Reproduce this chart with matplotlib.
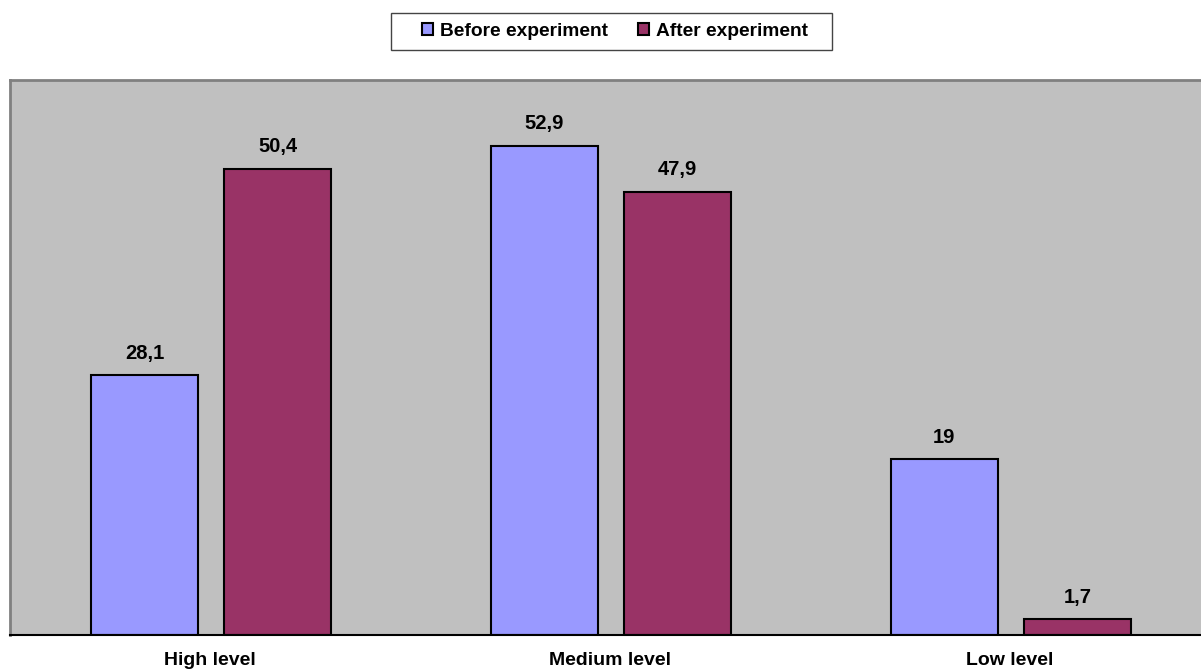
import matplotlib
matplotlib.use("Agg")
import matplotlib.pyplot as plt
import numpy as np
from matplotlib.patches import Patch, Rectangle

plt.rcParams['font.family'] = ['Liberation Sans', 'DejaVu Sans']

categories = ["High level", "Medium level", "Low level"]
before = [28.1, 52.9, 19]
after = [50.4, 47.9, 1.7]
before_labels = ["28,1", "52,9", "19"]
after_labels = ["50,4", "47,9", "1,7"]
series_names = ["Before experiment", "After experiment"]

W, H = 1201, 671
fig = plt.figure(figsize=(W / 100, H / 100), dpi=100)
ax = fig.add_axes([10 / W, 1 - 635 / H, 1200 / W, 555 / H])
ax.set_facecolor("#C0C0C0")

x = np.arange(len(categories))
width = 0.2675
b1 = ax.bar(x - 0.164, before, width, color="#9999FF", edgecolor="black", linewidth=1.5)
b2 = ax.bar(x + 0.169, after, width, color="#993366", edgecolor="black", linewidth=1.5)

for rects, labels in ((b1, before_labels), (b2, after_labels)):
    for r, lab in zip(rects, labels):
        ax.annotate(lab, (r.get_x() + r.get_width() / 2, r.get_height()),
                    xytext=(0, 9), textcoords="offset points",
                    ha="center", va="bottom", fontsize=14.5, fontweight="bold")

ax.set_xlim(-0.5, 2.5)
ax.set_ylim(0, 60)
ax.set_yticks([])
ax.set_xticks(x)
ax.set_xticklabels(categories, fontsize=14, fontweight="bold")
ax.tick_params(axis="x", length=0, pad=12)

for side in ("left", "top"):
    ax.spines[side].set_color("#808080")
    ax.spines[side].set_linewidth(2)
ax.spines["bottom"].set_color("black")
ax.spines["bottom"].set_linewidth(1.5)
ax.spines["right"].set_visible(False)

# legend box drawn separately for wider side padding
fig.add_artist(Rectangle((391 / W, 1 - 50 / H), 441 / W, 37 / H,
                         transform=fig.transFigure, facecolor="white",
                         edgecolor="#444444", linewidth=1.0))
handles = [Patch(facecolor="#9999FF", edgecolor="black", linewidth=1.5),
           Patch(facecolor="#993366", edgecolor="black", linewidth=1.5)]
leg = fig.legend(handles, series_names, loc="center",
                 bbox_to_anchor=(615 / W, 1 - 31.5 / H), ncol=2,
                 frameon=False,
                 prop={"weight": "bold", "size": 13.8},
                 handlelength=0.6, handleheight=0.6, handletextpad=0.35,
                 columnspacing=1.55, borderpad=0.0, borderaxespad=0)

fig.savefig("out.png", dpi=100)
